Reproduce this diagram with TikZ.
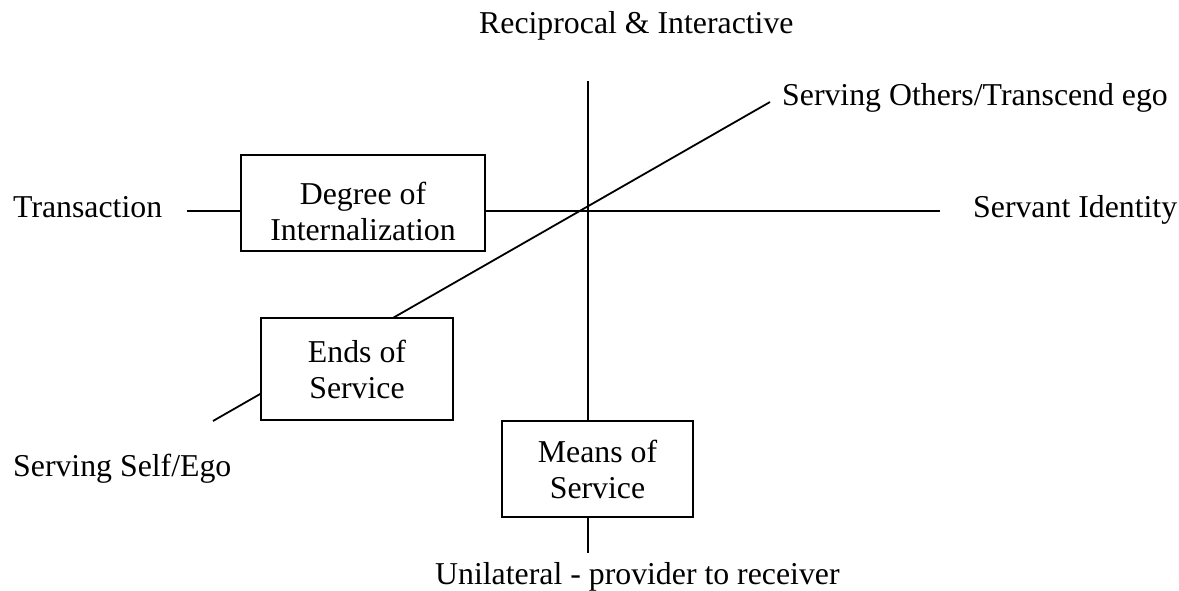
\documentclass[tikz,border=0pt]{standalone}
\usepackage{fontspec}
\setmainfont{Liberation Serif}
\begin{document}
\begin{tikzpicture}[x=1pt,y=-1pt,
  line/.style={line width=1.8pt, line cap=butt},
  boxnode/.style={draw, line width=1.8pt, fill=white, inner sep=0pt, align=center},
  lbl/.style={inner sep=0pt, anchor=base west},
  font=\fontsize{31.8}{36}\selectfont]
\useasboundingbox (0,0) rectangle (1179,591);
% axis end points
\coordinate (hl) at (187,211);
\coordinate (hr) at (940,211);
\coordinate (vt) at (588,81);
\coordinate (vb) at (588,553);
\coordinate (dl) at (213,421);
\coordinate (du) at (770,102);
% axes
\draw[line] (hl) -- (hr);
\draw[line] (vt) -- (vb);
\draw[line] (dl) -- (du);
% boxes
\node[boxnode, minimum width=244pt, minimum height=96pt] (deg) at (363,203)
  {\rule{0pt}{39pt}Degree of\\Internalization};
\node[boxnode, minimum width=192pt, minimum height=102pt] (ends) at (357,369)
  {Ends of\\Service};
\node[boxnode, minimum width=191pt, minimum height=96pt] (means) at (597.5,469)
  {Means of\\Service};
% labels
\node[lbl] (top) at (479,34) {Reciprocal \& Interactive};
\node[lbl] (trans) at (13,218) {Transaction};
\node[lbl] (servid) at (973,218) {Servant Identity};
\node[lbl] (others) at (782,106) {Serving Others/Transcend ego};
\node[lbl] (self) at (13,476) {Serving Self/Ego};
\node[lbl] (bottom) at (435,584) {Unilateral - provider to receiver};
\end{tikzpicture}
\end{document}
